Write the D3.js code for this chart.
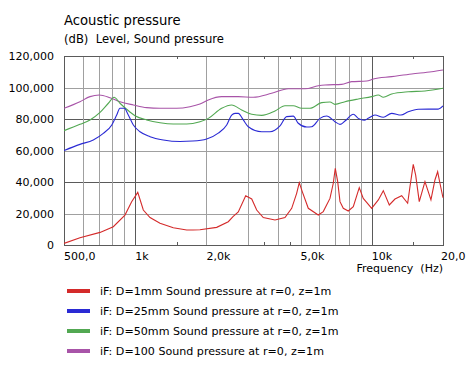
<!DOCTYPE html>
<html>
<head>
<meta charset="utf-8">
<script src="https://cdn.jsdelivr.net/npm/d3@7"></script>
<style>
  html, body { margin: 0; padding: 0; background: #fff; }
  svg { display: block; font-family: "DejaVu Sans", Verdana, sans-serif; }
  text { white-space: pre; }
</style>
</head>
<body>
<svg id="chart" width="466" height="381"></svg>
<script>
// ---------------- data ----------------
const seriesNames = [
  "iF: D=1mm Sound pressure at r=0, z=1m",
  "iF: D=25mm Sound pressure at r=0, z=1m",
  "iF: D=50mm Sound pressure at r=0, z=1m",
  "iF: D=100 Sound pressure at r=0, z=1m"
];
const seriesColors = ["#d42a2a", "#2a2ad4", "#52a852", "#a854a8"];

const freq1mm = [500,584,710,808,905,966,1025,1082,1155,1273,1449,1651,1755,1878,2210,2474,2590,2727,2931,3108,3262,3478,3898,4296,4586,4813,4937,5083,5390,5940,6236,6656,6874,7010,7176,7339,7578,7956,8352,8853,9204,9513,9988,10657,11186,11857,12531,13377,14179,14501,14973,15329,15874,16780,17785,18491,18985,19413,20000];
const val1mm  = [1000,4600,8000,11600,19000,27500,33400,22200,17400,13800,11000,9500,9500,9700,11200,14800,18000,21000,31300,29200,22200,17400,15900,17400,23300,32800,39600,33900,23300,19000,21200,29600,39200,48700,40200,27500,23300,21600,24300,36400,29600,27100,23300,28600,34500,25400,29200,31300,26500,37000,51200,44400,27500,40200,28600,41300,46500,39200,30000];

const freq25mm = [500,584,665,733,796,835,862,900,935,982,1048,1155,1315,1546,1750,2005,2244,2436,2557,2641,2727,2863,3006,3424,3712,4092,4368,4657,4890,5306,5570,6039,6447,6988,7339,7704,8352,8764,9294,9659,10313,11186,12134,13287,14262,15724,19096,20000];
const val25mm  = [60000,63900,66700,70900,76200,82500,86800,86800,82500,76200,71900,68800,66700,65700,66000,67300,71000,76200,82500,83600,83600,79400,75100,71900,71900,75600,81500,81800,77300,74900,75100,80400,81900,78300,76600,78700,83000,80400,79200,80400,82500,81100,83600,82500,84600,86200,86300,88300];

const freq50mm = [500,584,644,710,770,814,862,920,998,1118,1273,1449,1651,1878,2037,2320,2557,2819,3108,3424,3898,4296,4657,5053,5479,6140,6656,6988,7704,8764,9988,10657,11186,12134,14262,16780,20000];
const val50mm  = [72600,76600,79400,84200,90000,93800,90000,86200,82100,79400,77600,76800,76800,78300,80400,86800,88900,85700,83000,82300,85100,88400,88400,86800,86800,90400,90800,89300,91000,92700,94200,95200,93800,95900,97300,97800,99500];

const freq100 = [500,584,644,705,782,862,982,1118,1273,1497,1704,1878,2037,2320,2727,3156,3773,4436,5220,5940,6341,7458,8222,9513,10146,12134,14744,17913,20000];
const val100  = [86800,91000,94200,95200,93500,91000,88900,87200,86800,86800,87800,89500,92100,94200,94200,93800,96300,99200,99200,101100,101600,102000,103700,104100,105400,106900,108600,110000,111100];

const yTickValues = [0,20000,40000,60000,80000,100000,120000];
const yTickLabels = ["0","20,000","40,000","60,000","80,000","100,000","120,000"];
const yDarkGrid   = [40000,80000];
const yLightGrid  = [20000,60000,100000];

const xTickValues = [500,1000,2000,5000,10000,20000];
const xTickLabels = ["500,0","1k","2,0k","5,0k","10k","20,0"];
const xLightGrid  = [600,700,800,900,2000,3000,4000,5000,6000,7000,8000,9000];
const xDarkGrid   = [1000,10000];
const xMinorTicks = [1500,3500,4500,15000];

const titleText = "Acoustic pressure";
const subtitleText = "(dB)  Level, Sound pressure";
const xAxisTitle = "Frequency  (Hz)";

// ---------------- drawing ----------------
const svg = d3.select("#chart");
const L = 64, R = 443, T = 56, B = 245;

const x = d3.scaleLog().domain([500, 20000]).range([L, R]);
const y = d3.scaleLinear().domain([0, 120000]).range([B, T]);

const lightC = "#a0a0a0", darkC = "#5a5a5a";

svg.append("text").attr("x", 64).attr("y", 25).attr("font-size", 13.2).attr("fill", "#000").text(titleText);
svg.append("text").attr("x", 64).attr("y", 43).attr("font-size", 11.6).attr("fill", "#000").text(subtitleText);

const g = svg.append("g");

// horizontal grid
g.selectAll("line.hl").data(yLightGrid).join("line")
  .attr("x1", L).attr("x2", R).attr("y1", d => Math.round(y(d)) + 0.5).attr("y2", d => Math.round(y(d)) + 0.5)
  .attr("stroke", lightC).attr("stroke-width", 1);
g.selectAll("line.hd").data(yDarkGrid).join("line")
  .attr("x1", L).attr("x2", R).attr("y1", d => Math.round(y(d)) + 0.5).attr("y2", d => Math.round(y(d)) + 0.5)
  .attr("stroke", darkC).attr("stroke-width", 1);

// vertical grid
g.selectAll("line.vl").data(xLightGrid).join("line")
  .attr("y1", T).attr("y2", B).attr("x1", d => Math.round(x(d)) + 0.5).attr("x2", d => Math.round(x(d)) + 0.5)
  .attr("stroke", lightC).attr("stroke-width", 1);
g.selectAll("line.vd").data(xDarkGrid).join("line")
  .attr("y1", T).attr("y2", B).attr("x1", d => Math.round(x(d)) + 0.5).attr("x2", d => Math.round(x(d)) + 0.5)
  .attr("stroke", darkC).attr("stroke-width", 1);

// minor ticks top & bottom
xMinorTicks.forEach(f => {
  const xp = Math.round(x(f)) + 0.5;
  g.append("line").attr("x1", xp).attr("x2", xp).attr("y1", T).attr("y2", T + 3).attr("stroke", darkC);
  g.append("line").attr("x1", xp).attr("x2", xp).attr("y1", B - 3).attr("y2", B).attr("stroke", darkC);
});

// frame
g.append("rect").attr("x", L + 0.5).attr("y", T + 0.5).attr("width", R - L).attr("height", B - T)
  .attr("fill", "none").attr("stroke", darkC).attr("stroke-width", 1);

// y labels
svg.selectAll("text.yl").data(yTickValues).join("text")
  .attr("x", 54).attr("y", d => y(d) + 4).attr("text-anchor", "end").attr("font-size", 11).attr("fill", "#000")
  .text((d, i) => yTickLabels[i]);

// x labels
svg.selectAll("text.xl").data(xTickValues).join("text")
  .attr("x", d => Math.min(x(d), 441)).attr("y", 260).attr("text-anchor", "start").attr("font-size", 11).attr("fill", "#000")
  .text((d, i) => xTickLabels[i]);

svg.append("text").attr("x", 443).attr("y", 272).attr("text-anchor", "end").attr("font-size", 11).attr("fill", "#000").text(xAxisTitle);

// clip
svg.append("clipPath").attr("id", "clip").append("rect").attr("x", L).attr("y", T).attr("width", R - L + 1).attr("height", B - T + 1);

const seriesData = [
  {f: freq1mm, v: val1mm, curve: d3.curveLinear},
  {f: freq25mm, v: val25mm, curve: d3.curveMonotoneX},
  {f: freq50mm, v: val50mm, curve: d3.curveMonotoneX},
  {f: freq100, v: val100, curve: d3.curveMonotoneX}
];

const lines = svg.append("g").attr("clip-path", "url(#clip)");
[3, 2, 1, 0].forEach(i => {
  const s = seriesData[i];
  const pts = s.f.map((f, j) => [f, s.v[j]]);
  const line = d3.line().x(d => x(d[0])).y(d => y(d[1])).curve(s.curve);
  lines.append("path").attr("d", line(pts)).attr("fill", "none")
    .attr("stroke", seriesColors[i]).attr("stroke-width", 1.1);
});

// legend
const leg = svg.append("g");
seriesNames.forEach((name, i) => {
  const cy = 291 + i * 20;
  leg.append("rect").attr("x", 67).attr("y", cy - 2).attr("width", 23).attr("height", 4).attr("fill", seriesColors[i]);
  leg.append("text").attr("x", 100).attr("y", cy + 4).attr("font-size", 11.1).attr("fill", "#000").text(name);
});
</script>
</body>
</html>
